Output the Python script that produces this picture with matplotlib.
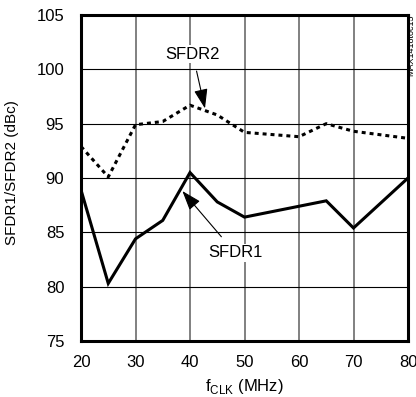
import matplotlib
matplotlib.use("Agg")
import matplotlib.pyplot as plt

plt.rcParams['font.family'] = ['Liberation Sans', 'DejaVu Sans']

freq = [20, 25, 30, 35, 40, 45, 50, 60, 65, 70, 80]
sfdr1 = [88.9, 80.3, 84.4, 86.1, 90.5, 87.8, 86.4, 87.4, 87.9, 85.4, 90.0]
sfdr2 = [92.9, 90.1, 94.9, 95.2, 96.7, 95.8, 94.2, 93.8, 95.0, 94.3, 93.65]
xticks = [20, 30, 40, 50, 60, 70, 80]
yticks = [75, 80, 85, 90, 95, 100, 105]

fig = plt.figure(figsize=(4.16, 3.97), dpi=100)
ax = fig.add_axes([81/416, 1-341/397, 327/416, 326/397])

ax.set_xlim(20, 80)
ax.set_ylim(75, 105)
ax.set_xticks(xticks)
ax.set_yticks(yticks)
ax.tick_params(length=0, labelsize=12, colors='black')
ax.tick_params(axis='x', pad=10)
ax.tick_params(axis='y', pad=12)
for x in xticks[1:-1]:
    ax.axvline(x, color='#808080', lw=1.4, zorder=1)
for y in yticks[1:-1]:
    ax.axhline(y, color='black', lw=0.8, zorder=1)

ax.plot(freq, sfdr1, color='black', lw=2.2, solid_joinstyle='miter', zorder=3)
ax.plot(freq, sfdr2, color='black', lw=2.2, linestyle=(0, (1.3, 1.3)), zorder=3)

for s in ax.spines.values():
    s.set_linewidth(2.2)
    s.set_zorder(4)

bbox = dict(facecolor='white', edgecolor='none', pad=1)
ax.annotate('SFDR2', xy=(42.75, 96.4), xytext=(40.5, 101.4), fontsize=12,
            ha='center', va='center', bbox=bbox, zorder=5,
            arrowprops=dict(arrowstyle='-|>,head_length=1.0,head_width=0.35',
                            color='black', lw=0.8, shrinkA=6, shrinkB=0))
ax.annotate('SFDR1', xy=(38.6, 88.8), xytext=(48.3, 83.1), fontsize=12,
            ha='center', va='center', bbox=bbox, zorder=5,
            arrowprops=dict(arrowstyle='-|>,head_length=1.0,head_width=0.35',
                            color='black', lw=0.8, shrinkA=7, shrinkB=0))

ax.set_ylabel('SFDR1/SFDR2 (dBc)', fontsize=11)
ax.yaxis.set_label_coords(-0.19, 0.518)
ax.set_xlabel(r'f$_{\mathregular{CLK}}$ (MHz)', fontsize=12, labelpad=5)

fig.text(411/416, 1-45/397, 'MAX1418toc15', rotation=90, fontsize=6.5,
         ha='center', va='center')

fig.savefig('out.png', dpi=100)
